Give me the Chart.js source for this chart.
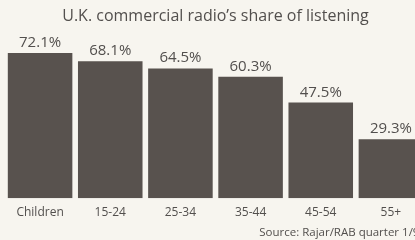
<!DOCTYPE html>
<html>
<head>
<meta charset="utf-8">
<script src="https://cdn.jsdelivr.net/npm/chart.js@4/dist/chart.umd.min.js"></script>
<style>
  html, body { margin: 0; padding: 0; background: #f7f5ef; overflow: hidden; }
  #wrap { width: 426px; height: 240px; }
</style>
</head>
<body>
<div id="wrap"><canvas id="chart"></canvas></div>
<script>
const categories = ['Children', '15-24', '25-34', '35-44', '45-54', '55+'];
const shares = [72.1, 68.1, 64.5, 60.3, 47.5, 29.3];
const valueLabels = ['72.1%', '68.1%', '64.5%', '60.3%', '47.5%', '29.3%'];

const textColor = '#524f4d';
const barColor = '#58524e';
const fontFamily = "'Open Sans', 'DejaVu Sans', sans-serif";

// Draw the percentage above each bar
const valueLabelPlugin = {
    id: 'valueLabels',
    afterDatasetsDraw(chart) {
        const ctx = chart.ctx;
        const meta = chart.getDatasetMeta(0);
        ctx.save();
        ctx.fillStyle = textColor;
        ctx.font = '15px ' + fontFamily;
        ctx.textAlign = 'center';
        ctx.textBaseline = 'alphabetic';
        meta.data.forEach((bar, i) => {
            ctx.fillText(valueLabels[i], bar.x, bar.y - 6);
        });
        ctx.restore();
    }
};

new Chart(document.getElementById('chart'), {
    type: 'bar',
    data: {
        labels: categories,
        datasets: [{
            data: shares,
            backgroundColor: barColor,
            borderWidth: 0,
            barPercentage: 0.92,
            categoryPercentage: 1.0
        }]
    },
    options: {
        responsive: true,
        maintainAspectRatio: false,
        animation: false,
        layout: { padding: { left: 5, right: 0, top: 0, bottom: 0 } },
        plugins: {
            legend: { display: false },
            tooltip: { enabled: false },
            title: {
                display: true,
                text: 'U.K. commercial radio’s share of listening',
                color: textColor,
                font: { family: fontFamily, size: 16, weight: 'normal' },
                padding: { top: 7, bottom: 11 }
            },
            subtitle: {
                display: true,
                position: 'bottom',
                align: 'end',
                text: 'Source: Rajar/RAB quarter 1/98',
                color: textColor,
                font: { family: fontFamily, size: 11.5, weight: 'normal' },
                padding: { top: 7, bottom: 0 }
            }
        },
        scales: {
            x: {
                grid: { display: false, drawTicks: false },
                border: { display: false },
                ticks: {
                    color: textColor,
                    font: { family: fontFamily, size: 12 },
                    padding: 7
                },
                // keep the axis band tight so the bars reach down like the original
                afterFit(scale) { scale.height = 21; }
            },
            y: { display: false, min: 0, max: 80 }
        }
    },
    plugins: [valueLabelPlugin]
});
</script>
</body>
</html>
